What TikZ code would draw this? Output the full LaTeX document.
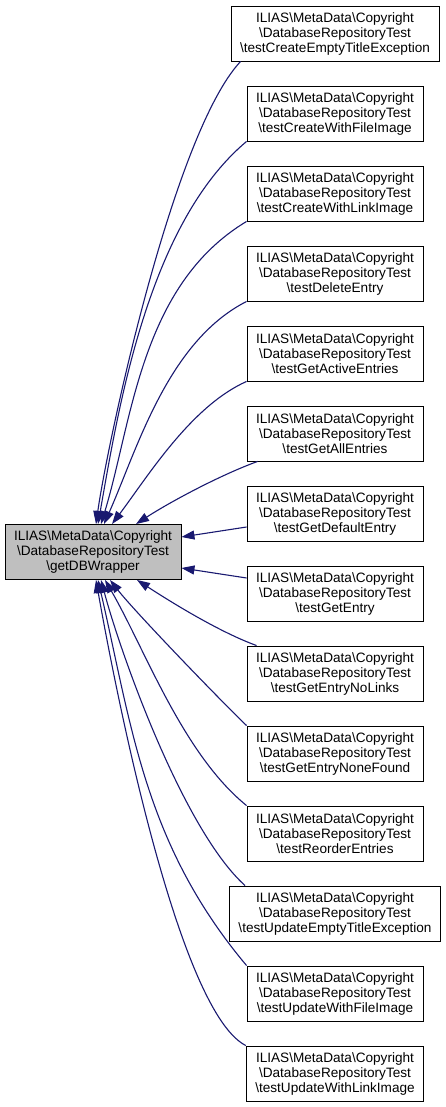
\documentclass[tikz,border=0pt]{standalone}
\usepackage{fontspec}
\setmainfont{Liberation Sans}
\usetikzlibrary{arrows.meta}
\definecolor{edgeblue}{HTML}{191970}
\definecolor{nodegray}{HTML}{BFBFBF}
\newcommand{\ilpath}{ILIAS\textbackslash MetaData\textbackslash Copyright\\\textbackslash DatabaseRepositoryTest\\\textbackslash}

\begin{document}
\begin{tikzpicture}[x=1pt, y=1pt,
  testbox/.style={draw=black, line width=0.9pt, align=center, inner xsep=9pt,
    inner ysep=0pt, minimum height=55pt, font=\fontsize{13.6}{15}\selectfont},
  srcbox/.style={testbox, fill=nodegray},
  edge/.style={draw=edgeblue, line width=1.1pt, {Triangle[length=13pt, width=9pt]}-}]
  \useasboundingbox (0,0) rectangle (445,-1107);

  %% The called function on the left, the 14 callers stacked on the right.
  \node[srcbox] (src) at (93,-552) {\ilpath getDBWrapper};
  \foreach \i/\name in {1/testCreateEmptyTitleException, 2/testCreateWithFileImage,
      3/testCreateWithLinkImage, 4/testDeleteEntry, 5/testGetActiveEntries,
      6/testGetAllEntries, 7/testGetDefaultEntry, 8/testGetEntry,
      9/testGetEntryNoLinks, 10/testGetEntryNoneFound, 11/testReorderEntries,
      12/testUpdateEmptyTitleException, 13/testUpdateWithFileImage,
      14/testUpdateWithLinkImage} {
    \node[testbox] (t\i) at (335,{-33.5-80*(\i-1)}) {\ilpath \name};
  }

  %% Upper callers bend down onto the top edge.
  \foreach \i/\sx/\ao/\la/\ai/\li/\tx in {1/3/82/81/227/99/10, 2/5/80/117/220/129/0,
      3/8/73/107/211/124/0, 4/11/66/81/207/89/0, 5/19/53/59/204/61/0,
      6/43/33/40/200/40/11} {
    \draw[edge] ([xshift=\sx pt]src.north) .. controls +(\ao:\la) and +(\ai:\li)
      .. ([xshift=\tx pt]t\i.south west);
  }
  %% The two middle callers meet the right side.
  \draw[edge] ([yshift=15pt]src.east) -- ([yshift=-13.5pt]t7.west);
  \draw[edge] ([yshift=-16pt]src.east) -- ([yshift=15.5pt]t8.west);
  %% Lower callers come up onto the bottom edge.
  \foreach \i/\sx/\ao/\la/\ai/\li/\tx in {9/44/327/40/160/40/10, 10/17/308/40/136/40/0,
      11/12/300/80/141/82/0, 12/8/285/80/138/82/16, 13/5/283/151/130/159/0,
      14/3/280/58/153/82/0} {
    \draw[edge] ([xshift=\sx pt]src.south) .. controls +(\ao:\la) and +(\ai:\li)
      .. ([xshift=\tx pt]t\i.north west);
  }
\end{tikzpicture}
\end{document}
